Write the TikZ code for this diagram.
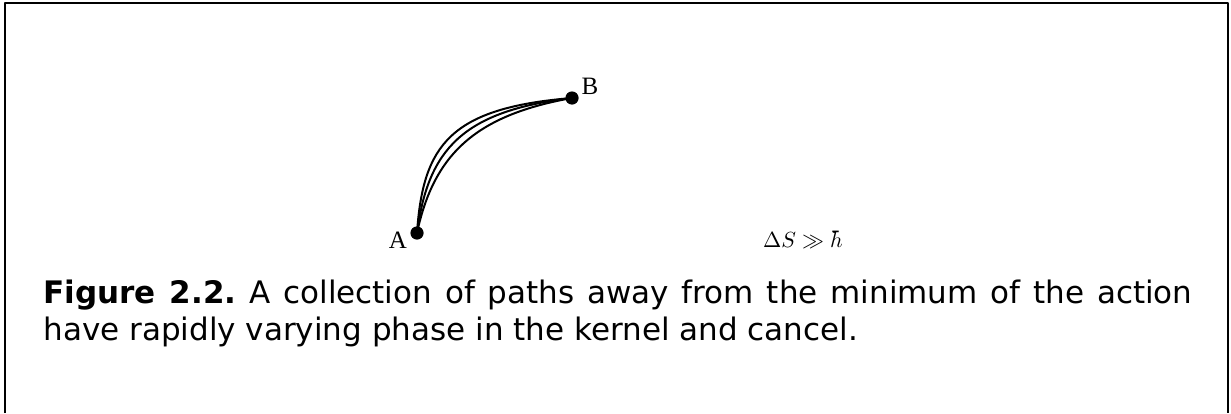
\documentclass[tikz,border=0pt]{standalone}
\usepackage{fontspec}
\setmainfont{DejaVu Sans}
\newfontfamily\labelfont{Liberation Serif}
\usetikzlibrary{positioning}
\frenchspacing

\begin{document}
\begin{tikzpicture}[x=0.5pt,y=-0.5pt,line cap=round,line join=round,
  dot/.style={circle,fill=black,inner sep=0pt,minimum size=6.6pt},
  pathline/.style={line width=1pt},
  pointlabel/.style={font=\labelfont\fontsize{12.5}{14}\selectfont,inner sep=0pt}]
  \useasboundingbox (0,0) rectangle (1231,413);
  \draw[line width=1pt,line cap=butt] (5,413) -- (5,3) -- (1228,3) -- (1228,413);
  \node[dot] (A) at (417,233) {};
  \node[dot] (B) at (572,98) {};
  \draw[pathline] (A.center) .. controls (423,145) and (450,108) .. (B.center);
  \draw[pathline] (A.center) .. controls (428,149) and (463,111) .. (B.center);
  \draw[pathline] (A.center) .. controls (434,153) and (477,115) .. (B.center);
  \node[pointlabel] (labA) at (398,240) {A};
  \node[pointlabel] (labB) at (590,86) {B};
  \node[font=\fontsize{11}{13}\selectfont,inner sep=0pt] (rel) at (803,240) {$\Delta S\gg\hbar$};
  \node[anchor=base west,inner sep=0pt,text width=574.5pt,align=justify,
    font=\fontsize{15.5}{18.5}\selectfont] (caption) at (43,303)
    {\textbf{Figure 2.2.} A collection of paths away from the minimum of the action\linebreak have rapidly varying phase in the kernel and cancel.};
\end{tikzpicture}
\end{document}
